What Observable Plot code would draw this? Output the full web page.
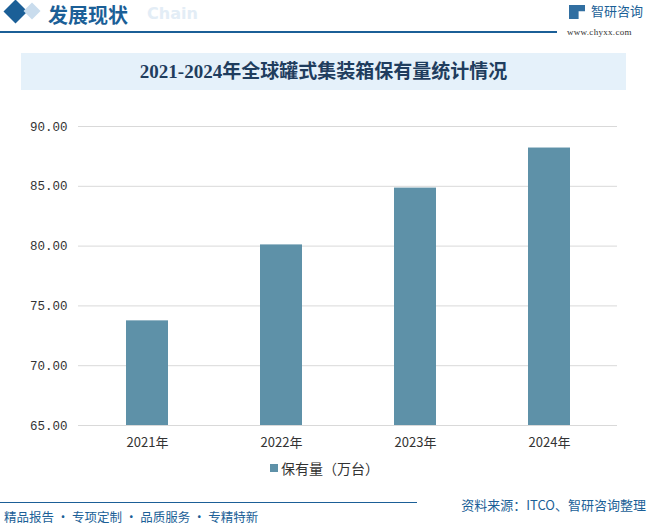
<!DOCTYPE html>
<html><head><meta charset="utf-8">
<script src="https://cdn.jsdelivr.net/npm/d3@7"></script>
<script src="https://cdn.jsdelivr.net/npm/@observablehq/plot@0.6"></script>
<style>
html,body{margin:0;padding:0;background:#fff;}
#wrap{position:relative;width:647px;height:525px;overflow:hidden;font-family:"Noto Sans CJK SC",sans-serif;background:#fff;}
.abs{position:absolute;white-space:nowrap;}
</style></head>
<body><div id="wrap">
<div class="abs" style="left:7px;top:3px;width:17px;height:17px;background:#1b5f97;transform:rotate(45deg);"></div>
<div class="abs" style="left:26px;top:5px;width:12px;height:12px;background:#c9dced;transform:rotate(45deg);"></div>
<div class="abs" style="left:48px;top:0px;height:29px;line-height:29px;font-size:20px;font-weight:bold;color:#1b5f97;">发展现状</div>
<div class="abs" style="left:147px;top:5px;line-height:18px;font-size:16px;font-weight:bold;color:#e3edf6;font-family:'DejaVu Sans',sans-serif;">Chain</div>
<div class="abs" style="left:0;top:31px;width:557px;height:2px;background:#1b5f97;"></div>
<div class="abs" style="left:569px;top:5px;width:16px;height:14px;background:#1b5f97;clip-path:polygon(0 0,100% 0,100% 45%,60% 45%,60% 100%,0 100%);opacity:0.9"></div>
<div class="abs" style="left:591px;top:3px;line-height:15px;font-size:13px;color:#1b5f97;">智研咨询</div>
<div class="abs" style="left:567px;top:27px;line-height:10px;font-size:9px;color:#333;font-family:'Liberation Serif',serif;letter-spacing:0.3px;">www.chyxx.com</div>
<div class="abs" style="left:21px;top:53px;width:605px;height:37px;background:#e5f1fa;"></div>
<div class="abs" id="title" style="left:21px;top:53px;width:605px;height:37px;line-height:37px;text-align:center;font-size:19px;font-weight:bold;color:#1f3d5e;font-family:'Liberation Serif','Noto Sans CJK SC',serif;"></div>
<div class="abs" id="chart" style="left:0;top:100px;"></div>
<div class="abs" style="left:270px;top:464px;width:8px;height:8px;background:#5e91a8;"></div>
<div class="abs" id="legend" style="left:281px;top:459px;line-height:18px;font-size:14px;color:#333;"></div>
<div class="abs" style="left:0;top:502px;width:417px;height:1px;background:#1b5f97;"></div>
<div class="abs" id="source" style="right:1px;top:497px;line-height:16px;font-size:13px;color:#1b5f97;"></div>
<div class="abs" style="left:4px;top:510px;line-height:14px;font-size:12.5px;color:#1b5f97;">精品报告 · 专项定制 · 品质服务 · 专精特新</div>
</div>
<script>
const titleText = "2021-2024年全球罐式集装箱保有量统计情况";
const seriesName = "保有量（万台）";
const sourceText = "资料来源：ITCO、智研咨询整理";
const years = ["2021年", "2022年", "2023年", "2024年"];
const values = [73.75, 80.1, 84.85, 88.2];
const yTicks = [65, 70, 75, 80, 85, 90];

document.getElementById("title").textContent = titleText;
document.getElementById("legend").textContent = seriesName;
document.getElementById("source").textContent = sourceText;

const data = years.map((y, i) => ({year: y, value: values[i]}));

const chart = Plot.plot({
  width: 647,
  height: 360,
  marginTop: 26,
  marginBottom: 35,
  marginLeft: 78,
  marginRight: 30,
  style: {fontFamily: "'Liberation Mono','Noto Sans CJK SC',monospace", fontSize: "12px", color: "#333", background: "transparent"},
  x: {domain: years, paddingInner: 0.6875, paddingOuter: 0.34375, label: null},
  y: {domain: [65, 90], label: null},
  marks: [
    Plot.ruleY(yTicks, {stroke: "#d9d9d9", strokeWidth: 1}),
    Plot.barY(data, {x: "year", y1: 65, y2: "value", fill: "#5e91a8"}),
    Plot.axisY({ticks: yTicks, tickSize: 0, tickPadding: 11, tickFormat: d3.format(".2f"), label: null, fontSize: 12.5}),
    Plot.axisX({tickSize: 0, tickPadding: 12, label: null, fontSize: 13, fontFamily: "'Noto Sans CJK SC',sans-serif"})
  ]
});
document.getElementById("chart").appendChild(chart);
</script>
</body></html>
